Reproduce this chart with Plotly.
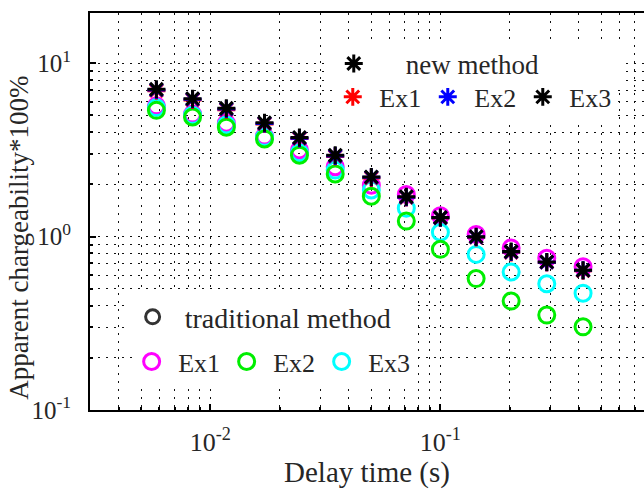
import plotly.graph_objects as go

# ---------------- data ----------------
delay_time = [0.00583, 0.00837, 0.01174, 0.0172, 0.0244, 0.0349, 0.0501,
              0.0711, 0.100, 0.143, 0.203, 0.290, 0.417]

new_ex1 = [6.95, 6.15, 5.40, 4.47, 3.68, 2.90, 2.18, 1.68, 1.28, 0.99, 0.81, 0.71, 0.635]
new_ex2 = [7.02, 6.20, 5.45, 4.50, 3.70, 2.92, 2.20, 1.69, 1.285, 0.995, 0.815, 0.712, 0.64]
new_ex3 = [7.08, 6.25, 5.50, 4.54, 3.73, 2.95, 2.21, 1.70, 1.29, 1.00, 0.82, 0.715, 0.64]

trad_ex1 = [5.68, 5.09, 4.51, 3.80, 3.16, 2.53, 1.98, 1.75, 1.32, 1.03, 0.86, 0.75, 0.67]
trad_ex2 = [5.35, 4.90, 4.28, 3.66, 2.95, 2.30, 1.71, 1.23, 0.845, 0.573, 0.425, 0.353, 0.302]
trad_ex3 = [5.55, 5.01, 4.41, 3.74, 3.05, 2.42, 1.86, 1.46, 1.06, 0.79, 0.625, 0.535, 0.472]

x_tick_vals = [0.01, 0.1]
x_tick_text = ["10<sup>-2</sup>", "10<sup>-1</sup>"]
y_tick_vals = [0.1, 1, 10]
y_tick_text = ["10<sup>-1</sup>", "10<sup>0</sup>", "10<sup>1</sup>"]
x_minor = [0.003, 0.004, 0.005, 0.006, 0.007, 0.008, 0.009,
           0.02, 0.03, 0.04, 0.05, 0.06, 0.07, 0.08, 0.09,
           0.2, 0.3, 0.4, 0.5, 0.6, 0.7]
y_minor = [0.2, 0.3, 0.4, 0.5, 0.6, 0.7, 0.8, 0.9,
           2, 3, 4, 5, 6, 7, 8, 9]

FONT = "Liberation Serif"
TXT = "#262626"
NB = "\u00a0"

fig = go.Figure()

circ = dict(symbol="circle-open", size=16)
for name, ys, col, rank in [("Ex1", trad_ex1, "#ff00ff", 1), ("Ex3", trad_ex3, "#00ffff", 3),
                            ("Ex2", trad_ex2, "#00ee00", 2)]:
    fig.add_trace(go.Scatter(x=delay_time, y=ys, mode="markers", name=NB + name,
                             marker=dict(color=col, line=dict(color=col, width=3), **circ),
                             legend="legend4", legendrank=rank, showlegend=True))

star = dict(symbol="asterisk-open", size=15)
for name, ys, col in [("Ex1", new_ex1, "#ff0000"), ("Ex2", new_ex2, "#0000ff"),
                      ("Ex3", new_ex3, "#000000")]:
    fig.add_trace(go.Scatter(x=delay_time, y=ys, mode="markers", name=NB + name,
                             marker=dict(color=col, line=dict(color=col, width=3), **star),
                             legend="legend2", showlegend=True))

# legend headers
fig.add_trace(go.Scatter(x=[None], y=[None], mode="markers",
                         name=NB * 4 + "new method",
                         marker=dict(color="#000000", line=dict(color="#000000", width=3), **star),
                         legend="legend5", showlegend=True))
fig.add_trace(go.Scatter(x=[None], y=[None], mode="markers", name=NB + "traditional method",
                         marker=dict(color="#333333", line=dict(color="#333333", width=3),
                                     symbol="circle-open", size=14),
                         legend="legend3", showlegend=True))

PW = 553.6
PH = 397.5
L = 90.4
T = 12.5


def px(xp):
    return (xp - L) / PW


def py(yp):
    return (T + PH - yp) / PH


leg_common = dict(orientation="h", bgcolor="white", borderwidth=0,
                  xanchor="left", yanchor="top", itemclick=False, tracegroupgap=0)

fig.update_layout(
    width=644, height=489,
    showlegend=True,
    margin=dict(l=L, r=0, t=T, b=489 - T - PH),
    paper_bgcolor="white", plot_bgcolor="white",
    font=dict(family=FONT, size=26, color=TXT),
    legend5=dict(x=px(329), y=py(39), itemwidth=40, entrywidth=240,
                 font=dict(family=FONT, size=27, color=TXT), **leg_common),
    legend2=dict(x=px(333), y=py(73), itemwidth=30, entrywidth=50,
                 font=dict(family=FONT, size=26, color=TXT), **leg_common),
    legend3=dict(x=px(128), y=py(292), itemwidth=40, entrywidth=230,
                 font=dict(family=FONT, size=28, color=TXT), **leg_common),
    legend4=dict(x=px(132), y=py(338), itemwidth=30, entrywidth=50,
                 font=dict(family=FONT, size=26, color=TXT), **leg_common),
    xaxis=dict(type="log", range=[-2.523, -0.115],
               tickvals=x_tick_vals, ticktext=x_tick_text,
               showline=True, linecolor="black", linewidth=2, mirror=True,
               ticks="inside", ticklen=6, tickcolor="black", tickwidth=1.5,
               showgrid=True, gridcolor="#111111", gridwidth=1.2, griddash="2px,6px",
               minor=dict(tickvals=x_minor, showgrid=True, gridcolor="#111111", gridwidth=1.2,
                          griddash="2px,6px", ticks="inside", ticklen=3, tickcolor="black"),
               tickfont=dict(family=FONT, size=26, color=TXT),
               ticklabelstandoff=8,
               title=dict(text="Delay time (s)", font=dict(family=FONT, size=29, color=TXT), standoff=8),
               zeroline=False),
    yaxis=dict(type="log", range=[-1, 1.29],
               tickvals=y_tick_vals, ticktext=y_tick_text,
               showline=True, linecolor="black", linewidth=2, mirror=False,
               ticks="inside", ticklen=6, tickcolor="black", tickwidth=1.5,
               showgrid=True, gridcolor="#111111", gridwidth=1.2, griddash="2px,6px",
               minor=dict(tickvals=y_minor, showgrid=True, gridcolor="#111111", gridwidth=1.2,
                          griddash="2px,6px", ticks="inside", ticklen=3, tickcolor="black"),
               tickfont=dict(family=FONT, size=25, color=TXT),
               ticklabelstandoff=12,
               zeroline=False),
    annotations=[dict(text="Apparent chargeability*100%", textangle=-90,
                      xref="paper", yref="paper", x=px(20), y=py(238),
                      xanchor="center", yanchor="middle", showarrow=False,
                      font=dict(family=FONT, size=27, color=TXT))],
)

fig.write_html("out.html")
